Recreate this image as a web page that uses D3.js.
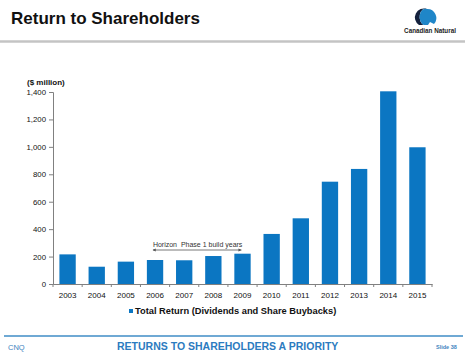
<!DOCTYPE html>
<html>
<head>
<meta charset="utf-8">
<script src="https://cdn.jsdelivr.net/npm/d3@7"></script>
<style>
  body { margin: 0; background: #fff; }
  svg { display: block; font-family: "Liberation Sans", Arial, sans-serif; }
</style>
</head>
<body>
<div id="canvas"></div>
<script>
"use strict"

/* Canvas size */
let svgWidth = 469;
let svgHeight = 352;

/* Plot area */
let leftMargin = 53
let rightEdge = 432
let topY = 92
let baseY = 284

/* Data */
let years = ["2003", "2004", "2005", "2006", "2007", "2008", "2009", "2010", "2011", "2012", "2013", "2014", "2015"];
let totalReturn = [216, 126, 163, 175, 173, 204, 221, 365, 479, 746, 839, 1405, 997];
let yTicks = [0, 200, 400, 600, 800, 1000, 1200, 1400];
let horizonYears = ["2006", "2009"];

let barColor = "#0b76c2";

let svg = d3.select("#canvas")
    .append("svg")
    .attr("width", svgWidth)
    .attr("height", svgHeight);

/* Header */
svg.append("text")
    .attr("x", 11)
    .attr("y", 24)
    .style("font-size", "17px")
    .style("font-weight", "bold")
    .attr("fill", "#111")
    .text("Return to Shareholders");

svg.append("line")
    .attr("x1", 0)
    .attr("x2", 465)
    .attr("y1", 41.5)
    .attr("y2", 41.5)
    .attr("stroke", "#c4c4c4")
    .attr("stroke-width", 2.5);

/* Logo (rough shape) */
let logo = svg.append("g").attr("transform", "translate(425,18)");
logo.append("path")
    .attr("d", "M2,-9 A9,9 0 0 0 -6,7 L-1,7 A5,7 0 0 1 2,-9 Z")
    .attr("fill", "#14213d");
logo.append("path")
    .attr("d", "M2,-9 A9,9 0 0 1 9,6 L5,4 L3,7 L-1,7 A5,7 0 0 1 2,-9 Z")
    .attr("fill", "#1f86c8");
svg.append("text")
    .attr("x", 430)
    .attr("y", 33)
    .style("text-anchor", "middle")
    .style("font-size", "6.3px")
    .style("font-weight", "bold")
    .attr("fill", "#222")
    .text("Canadian Natural");

/* Scales */
let xScale = d3.scaleBand()
    .domain(years)
    .range([leftMargin, rightEdge])
    .paddingInner(0.44)
    .paddingOuter(0.22);

let yScale = d3.scaleLinear()
    .domain([0, 1400])
    .range([baseY, topY]);

/* Bars */
svg.selectAll("rect.bar")
    .data(totalReturn)
    .join("rect")
    .attr("class", "bar")
    .attr("x", function (d, i) { return xScale(years[i]); })
    .attr("width", xScale.bandwidth())
    .attr("y", function (d) { return yScale(d); })
    .attr("height", function (d) { return yScale(0) - yScale(d); })
    .attr("fill", barColor);

/* Y axis */
let yAxis = svg.append("g")
    .attr("transform", "translate(" + leftMargin + ",0)")
    .call(d3.axisLeft(yScale).tickValues(yTicks).tickFormat(d3.format(",")).tickSize(4).tickPadding(3));
yAxis.select(".domain").attr("stroke", "#808080");
yAxis.selectAll(".tick line").attr("stroke", "#808080");
yAxis.selectAll("text")
    .style("font-size", "7.8px")
    .attr("fill", "#111")
    .style("font-family", "inherit");

/* X axis */
let xAxis = svg.append("g")
    .attr("transform", "translate(0," + baseY + ")")
    .call(d3.axisBottom(xScale).tickSize(0).tickPadding(8).tickSizeOuter(0));
xAxis.select(".domain").attr("stroke", "#808080");
xAxis.selectAll("text")
    .style("font-size", "8px")
    .attr("fill", "#111")
    .style("font-family", "inherit");

/* small ticks between the categories */
for (let i = 0; i <= years.length; i++) {
    let bx = leftMargin + i * xScale.step();
    svg.append("line")
        .attr("x1", bx)
        .attr("x2", bx)
        .attr("y1", baseY)
        .attr("y2", baseY + 3)
        .attr("stroke", "#808080");
}

svg.append("text")
    .attr("x", 27)
    .attr("y", 85)
    .style("font-size", "8px")
    .style("font-weight", "bold")
    .attr("fill", "#111")
    .text("($ million)");

/* Horizon annotation: arrow runs from inside the 2006 bar to the middle of 2009 */
let hx1 = xScale(horizonYears[0]) + 6;
let hx2 = xScale(horizonYears[1]) + 7;

svg.append("defs").append("marker")
    .attr("id", "arrow")
    .attr("viewBox", "0 0 10 10")
    .attr("refX", 9)
    .attr("refY", 5)
    .attr("markerWidth", 4)
    .attr("markerHeight", 4)
    .attr("orient", "auto-start-reverse")
    .append("path")
    .attr("d", "M0,0 L10,5 L0,10 Z")
    .attr("fill", "#555");

svg.append("line")
    .attr("x1", hx1)
    .attr("x2", hx2)
    .attr("y1", 250)
    .attr("y2", 250)
    .attr("stroke", "#555")
    .attr("stroke-width", 0.8)
    .attr("marker-start", "url(#arrow)")
    .attr("marker-end", "url(#arrow)");

svg.append("text")
    .attr("x", hx1)
    .attr("y", 246.5)
    .style("font-size", "7px")
    .style("white-space", "pre")
    .attr("fill", "#333")
    .text("Horizon  Phase 1 build years");

/* Legend */
svg.append("rect")
    .attr("x", 129)
    .attr("y", 309)
    .attr("width", 4)
    .attr("height", 4)
    .attr("fill", barColor);

svg.append("text")
    .attr("x", 135)
    .attr("y", 314)
    .style("font-size", "9.3px")
    .style("font-weight", "bold")
    .attr("fill", "#111")
    .text("Total Return (Dividends and Share Buybacks)");

/* Footer */
svg.append("line")
    .attr("x1", 4)
    .attr("x2", 463)
    .attr("y1", 336)
    .attr("y2", 336)
    .attr("stroke", "#3f8cc6")
    .attr("stroke-width", 1.5);

svg.append("text")
    .attr("x", 8)
    .attr("y", 349.5)
    .style("font-size", "7.5px")
    .attr("fill", "#3f84c0")
    .text("CNQ");

svg.append("text")
    .attr("x", 117)
    .attr("y", 350)
    .style("font-size", "10.5px")
    .style("font-weight", "bold")
    .attr("fill", "#2b7bc0")
    .text("RETURNS TO SHAREHOLDERS A PRIORITY");

svg.append("text")
    .attr("x", 436)
    .attr("y", 349)
    .style("font-size", "5.5px")
    .style("font-weight", "bold")
    .attr("fill", "#3f84c0")
    .text("Slide 38");
</script>
</body>
</html>
